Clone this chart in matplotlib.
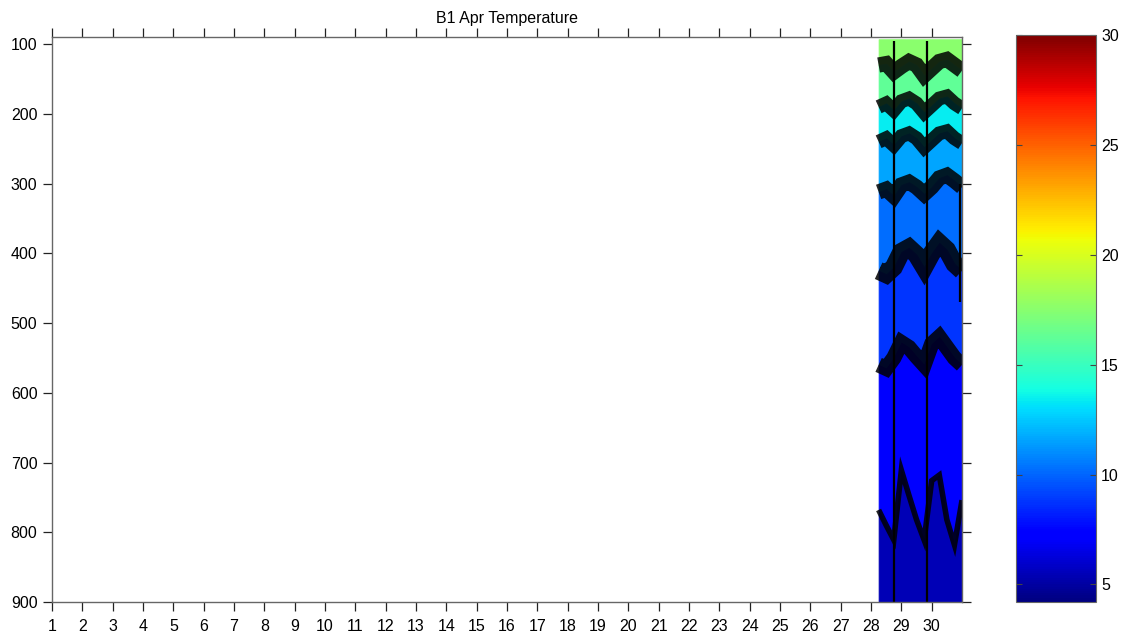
import numpy as np
import matplotlib.pyplot as plt
from matplotlib.colors import Normalize
from matplotlib.cm import ScalarMappable

plt.rcParams['font.family'] = ['Liberation Sans', 'DejaVu Sans']

# time axis of the record (day of April)
days = [28.25, 28.5, 28.75, 29.0, 29.25, 29.5, 29.75, 30.0, 30.25, 30.5, 30.75, 31.0]

# depth (m) of the contour boundaries, shallow -> deep
iso_a = [130, 128, 140, 132, 125, 130, 145, 135, 125, 122, 130, 138]
iso_b = [190, 185, 195, 182, 178, 185, 198, 188, 178, 175, 185, 192]
iso_c = [240, 235, 245, 232, 228, 235, 248, 238, 228, 225, 235, 242]
iso_d = [312, 308, 318, 302, 298, 305, 315, 305, 292, 288, 296, 305]
iso_e = [425, 430, 420, 398, 392, 402, 420, 400, 385, 395, 415, 425]
iso_f = [560, 565, 550, 528, 535, 548, 560, 530, 520, 535, 550, 560]
iso_g = [768, 790, 811, 711, 747, 782, 811, 726, 718, 782, 818, 754]

top_depth = 93
bottom_depth = 900

# temperature of each filled band, shallow -> deep
band_temps = [17.6, 16.2, 13.4, 11.6, 10.2, 8.8, 7.2, 5.5]

# narrow vertical dips through the water column
spike_days = [28.77, 29.83, 30.92]
spike_top = [95, 95, 300]
spike_bottom = [900, 900, 470]

isotherms = [iso_a, iso_b, iso_c, iso_d, iso_e, iso_f, iso_g]
line_widths = [11, 10, 10, 11, 13, 11, 4]

fig = plt.figure(figsize=(11.24, 6.39), dpi=100)
ax = fig.add_axes([0.0463, 0.0579, 0.8096, 0.884])

cmap = plt.get_cmap('jet')
norm = Normalize(4.2, 30)

d = np.array(days)
edges = [np.full(len(days), top_depth)] + [np.array(i) for i in isotherms] \
    + [np.full(len(days), bottom_depth)]
for k, temp in enumerate(band_temps):
    ax.fill_between(d, edges[k], edges[k + 1], color=cmap(norm(temp)),
                    lw=0.6, edgecolor=cmap(norm(temp)))

for iso, lw in zip(isotherms, line_widths):
    ax.plot(d, iso, color='black', lw=lw, solid_capstyle='butt',
            solid_joinstyle='miter', alpha=0.85)

ax.vlines(spike_days, spike_top, spike_bottom, color='black', lw=1.6)

ax.set_xlim(1, 31)
ax.set_ylim(900, 90)
ax.set_xticks(range(1, 31))
ax.set_yticks(range(100, 1000, 100))
ax.tick_params(direction='out', length=6.5, width=0.9, top=True, right=True,
               labelsize=11.5, color='#222222', pad=4)
ax.tick_params(axis='x', pad=6)
for s in ax.spines.values():
    s.set_color('#666666')
    s.set_linewidth(1.0)
ax.set_title('B1 Apr Temperature', fontsize=11.5, pad=10)

cax = fig.add_axes([0.904, 0.0579, 0.0712, 0.887])
cb = fig.colorbar(ScalarMappable(norm=norm, cmap=cmap), cax=cax)
cb.set_ticks([5, 10, 15, 20, 25, 30])
cax.tick_params(direction='in', left=True, right=True, length=4,
                labelsize=11.5, color='#444444')
cb.outline.set_edgecolor('#666666')

fig.savefig('out.png', dpi=100)
